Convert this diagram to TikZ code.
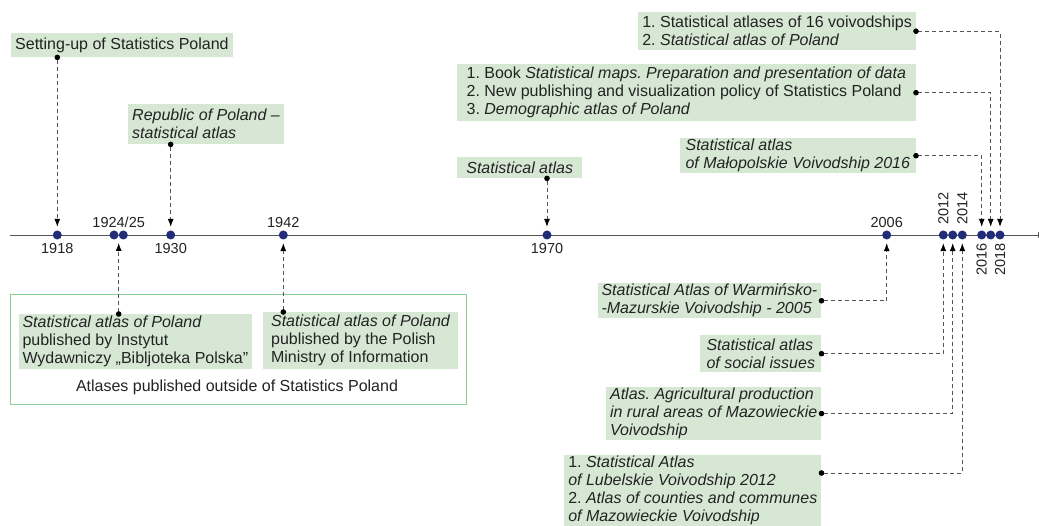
\documentclass[tikz,border=0pt]{standalone}
\usepackage{fontspec}
\setmainfont{Liberation Sans}
\usetikzlibrary{arrows.meta}
\definecolor{boxgreen}{RGB}{214,232,212}
\definecolor{framegreen}{RGB}{140,208,152}
\definecolor{dotblue}{RGB}{34,44,120}
\definecolor{linegray}{RGB}{85,85,85}
\definecolor{textgray}{RGB}{35,35,35}
\frenchspacing
\begin{document}
\begin{tikzpicture}[x=1pt, y=-1pt,
    every node/.style={text=textgray},
    yr/.style={font=\fontsize{14.5}{16}\selectfont, inner sep=0pt},
    yeardot/.style={circle, fill=dotblue, minimum size=9pt, inner sep=0pt},
    note/.style={fill=boxgreen, align=left, inner xsep=4pt, inner ysep=1pt, font=\fontsize{16}{18}\selectfont},
    conn/.style={draw=linegray, line width=0.8pt, dash pattern=on 4pt off 3pt,
      {Circle[length=5.5pt,color=black]}-{Latex[length=8pt,width=6pt,color=black]},
      shorten <=-2.75pt, shorten >=3.5pt},
    timeline/.style={draw=linegray, line width=0.9pt, -{Latex[length=8pt,width=6pt]}}]
    \path[fill=white, use as bounding box] (0,0) rectangle (1039,526);

    % time axis
    \coordinate (start) at (10,235);
    \coordinate (end) at (1046,235);
    \draw[timeline] (start) -- (end);

    \node[yeardot] (d1918) at (57.3,235) {};
    \node[yeardot] (d1924) at (114,235) {};
    \node[yeardot] (d1925) at (123.3,235) {};
    \node[yeardot] (d1930) at (170.7,235) {};
    \node[yeardot] (d1942) at (283.3,235) {};
    \node[yeardot] (d1970) at (547,235) {};
    \node[yeardot] (d2006) at (886.7,235) {};
    \node[yeardot] (d2012) at (943.3,235) {};
    \node[yeardot] (d2013) at (952.7,235) {};
    \node[yeardot] (d2014) at (962.3,235) {};
    \node[yeardot] (d2016) at (981.7,235) {};
    \node[yeardot] (d2017) at (990.7,235) {};
    \node[yeardot] (d2018) at (1000,235) {};
    \coordinate (c2425) at (118.7,235);

    \node[yr] (l1918) at (57.3,248.5) {1918};
    \node[yr] (l1924) at (118.7,222.5) {1924/25};
    \node[yr] (l1930) at (170.7,248.5) {1930};
    \node[yr] (l1942) at (283.3,222.5) {1942};
    \node[yr] (l1970) at (547,248.5) {1970};
    \node[yr] (l2006) at (886.7,222.5) {2006};
    \node[yr, rotate=90, anchor=west] (l2012) at (943.3,225) {2012};
    \node[yr, rotate=90, anchor=west] (l2014) at (962.3,225) {2014};
    \node[yr, rotate=90, anchor=east] (l2016) at (981.7,243) {2016};
    \node[yr, rotate=90, anchor=east] (l2018) at (1000,243) {2018};

    % outside Statistics Poland
    \node[draw=framegreen, line width=0.9pt, minimum width=456pt, minimum height=110pt, inner sep=0pt] (outside) at (238.8,349) {};
    \node[font=\fontsize{16}{18}\selectfont] (outsidelbl) at (237,387) {Atlases published outside of Statistics Poland};

    % boxes above the axis
    \node[note, anchor=north west, minimum height=24pt] (setup) at (11,33) {Setting-up of Statistics Poland};
    \node[note, anchor=north west, minimum height=40pt] (republic) at (128,104) {\textit{Republic of Poland –}\\\textit{statistical atlas}};
    \node[note, anchor=north west, minimum height=21pt, minimum width=125pt] (atlas70) at (457,157) {\textit{Statistical atlas}};
    \node[note, anchor=north east, minimum height=38pt] (voiv16) at (916,12) {1. Statistical atlases of 16 voivodships\\2. \textit{Statistical atlas of Poland}};
    \node[note, anchor=north east, minimum height=57pt, minimum width=459pt] (policy) at (916,64) {1. Book \textit{Statistical maps. Preparation and presentation of data}\\2. New publishing and visualization policy of Statistics Poland\\3. \textit{Demographic atlas of Poland}};
    \node[note, anchor=north east, minimum height=35pt, minimum width=236pt] (malo) at (916,138) {\textit{Statistical atlas}\\\textit{of Małopolskie Voivodship 2016}};

    % boxes below the axis
    \node[note, anchor=north west, minimum height=55pt] (instytut) at (18.3,314) {\textit{Statistical atlas of Poland}\\published by Instytut\\Wydawniczy „Bibljoteka Polska”};
    \node[note, anchor=north west, minimum height=57pt, minimum width=195pt] (ministry) at (263,312) {\textit{Statistical atlas of Poland}\\published by the Polish\\Ministry of Information};
    \node[note, anchor=north east, minimum height=35pt] (warm) at (821.5,283) {\textit{Statistical Atlas of Warmińsko-}\\\textit{-Mazurskie Voivodship - 2005}};
    \node[note, anchor=north east, minimum height=37pt, minimum width=121pt] (social) at (821.5,335) {\textit{Statistical atlas}\\\textit{of social issues}};
    \node[note, anchor=north east, minimum height=53.3pt] (agri) at (821.5,386.7) {\textit{Atlas. Agricultural production}\\\textit{in rural areas of Mazowieckie}\\\textit{Voivodship}};
    \node[note, anchor=north east, minimum height=71pt] (lubel) at (821.5,455) {1. \textit{Statistical Atlas}\\\textit{of Lubelskie Voivodship 2012}\\2. \textit{Atlas of counties and communes}\\\textit{of Mazowieckie Voivodship}};

    % connectors
    \draw[conn] (setup.south -| d1918) -- (d1918);
    \draw[conn] (republic.south -| d1930) -- (d1930);
    \draw[conn] (atlas70.south -| d1970) -- (d1970);
    \draw[conn, shorten >=8pt] (instytut.north -| c2425) -- (c2425);
    \draw[conn] (ministry.north -| d1942) -- (d1942);
    \draw[conn] (voiv16.east) -| (d2018);
    \draw[conn] (policy.east) -| (d2017);
    \draw[conn] (malo.east) -| (d2016);
    \draw[conn] (warm.east) -| (d2006);
    \draw[conn] (social.east) -| (d2012);
    \draw[conn] (agri.east) -| (d2013);
    \draw[conn] ([yshift=-18pt]lubel.north east) -| (d2014);
\end{tikzpicture}
\end{document}
